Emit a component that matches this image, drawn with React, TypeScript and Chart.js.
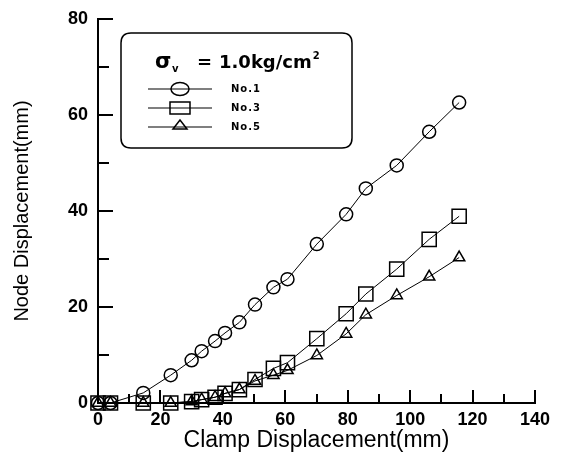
import React, { useEffect, useRef } from "react";
import { Chart, registerables } from "chart.js";

Chart.register(...registerables);

// ---- data ----
const clampDisp = [0, 4, 14.5, 23.3, 30, 33.2, 37.5, 40.7, 45.3, 50.3, 56.2, 60.7, 70.1, 79.5, 85.8, 95.7, 106.1, 115.7];
const no1 = [0, 0, 2.1, 5.8, 8.9, 10.8, 12.9, 14.6, 16.8, 20.5, 24.1, 25.8, 33.1, 39.3, 44.7, 49.5, 56.5, 62.6];
const no3 = [0, 0, 0, 0, 0.3, 0.7, 1.2, 2.0, 2.8, 4.9, 7.2, 8.4, 13.4, 18.6, 22.7, 27.9, 34.1, 38.9];
const no5 = [0, 0, 0, 0, 0.3, 0.7, 1.2, 2.0, 2.8, 4.6, 5.8, 6.8, 9.9, 14.4, 18.4, 22.4, 26.3, 30.3];
const seriesLabels = ["No.1", "No.3", "No.5"];
const seriesStyles = ["circle", "rect", "triangle"];
const xMin = 0, xMax = 140, xStep = 20, xMinor = 10;
const yMin = 0, yMax = 80, yStep = 20, yMinor = 10;
const xTitle = "Clamp Displacement(mm)";
const yTitle = "Node Displacement(mm)";

const tickFont = { family: "'Liberation Sans', Arial, sans-serif", size: 18, weight: "bold" as const, lineHeight: 1 };

const innerTicks = {
  id: "innerTicks",
  afterDraw(chart: any) {
    const ctx = chart.ctx;
    const xs = chart.scales.x;
    const ys = chart.scales.y;
    const { left, bottom } = chart.chartArea;
    ctx.save();
    ctx.strokeStyle = "#000";
    ctx.lineWidth = 2;
    ctx.beginPath();
    for (let v = xMin; v <= xMax; v += xMinor) {
      const px = Math.round(xs.getPixelForValue(v));
      const len = v % xStep === 0 ? 13 : 9;
      ctx.moveTo(px, bottom);
      ctx.lineTo(px, bottom - len);
    }
    for (let v = yMin; v <= yMax; v += yMinor) {
      const py = Math.round(ys.getPixelForValue(v));
      const len = v % yStep === 0 ? 15 : 11;
      ctx.moveTo(left, py);
      ctx.lineTo(left + len, py);
    }
    ctx.stroke();
    ctx.restore();
  },
};

const boxLegend = {
  id: "boxLegend",
  afterDraw(chart: any) {
    const ctx = chart.ctx;
    ctx.save();
    // rounded box
    const bx = 121, by = 33, bw = 231, bh = 115, r = 10;
    ctx.strokeStyle = "#000";
    ctx.lineWidth = 1.5;
    ctx.beginPath();
    ctx.moveTo(bx + r, by);
    ctx.lineTo(bx + bw - r, by);
    ctx.quadraticCurveTo(bx + bw, by, bx + bw, by + r);
    ctx.lineTo(bx + bw, by + bh - r);
    ctx.quadraticCurveTo(bx + bw, by + bh, bx + bw - r, by + bh);
    ctx.lineTo(bx + r, by + bh);
    ctx.quadraticCurveTo(bx, by + bh, bx, by + bh - r);
    ctx.lineTo(bx, by + r);
    ctx.quadraticCurveTo(bx, by, bx + r, by);
    ctx.stroke();

    // title: sigma_v = 1.0kg/cm^2
    ctx.fillStyle = "#000";
    ctx.textBaseline = "alphabetic";
    ctx.textAlign = "left";
    ctx.font = "bold 21px 'DejaVu Sans'";
    ctx.fillText("σ", 155, 68);
    ctx.font = "bold 10px 'DejaVu Sans'";
    ctx.fillText("v", 172, 72);
    ctx.font = "bold 18px 'DejaVu Sans'";
    ctx.fillText("=", 197, 68);
    const main = "1.0kg/cm";
    ctx.fillText(main, 219, 68);
    const w = ctx.measureText(main).width;
    ctx.font = "bold 10px 'DejaVu Sans'";
    ctx.fillText("2", 219 + w + 1, 59);

    // entries
    const rows = [89, 108, 127];
    rows.forEach((yy, i) => {
      ctx.lineWidth = 1.2;
      ctx.beginPath();
      ctx.moveTo(148, yy);
      ctx.lineTo(212, yy);
      ctx.stroke();
      ctx.lineWidth = 1.5;
      ctx.beginPath();
      const cx = 180;
      if (seriesStyles[i] === "circle") {
        ctx.ellipse(cx, yy, 9, 6.5, 0, 0, Math.PI * 2);
      } else if (seriesStyles[i] === "rect") {
        ctx.rect(cx - 10, yy - 6, 20, 12);
      } else {
        ctx.moveTo(cx, yy - 7);
        ctx.lineTo(cx + 7, yy + 2);
        ctx.lineTo(cx - 7, yy + 2);
        ctx.closePath();
      }
      ctx.stroke();
      ctx.font = "bold 10px 'DejaVu Sans'";
      (ctx as any).letterSpacing = "1px";
      ctx.textBaseline = "middle";
      ctx.fillText(seriesLabels[i], 231, yy);
      (ctx as any).letterSpacing = "0px";
    });
    ctx.restore();
  },
};

export default function App() {
  const ref = useRef<HTMLCanvasElement | null>(null);
  useEffect(() => {
    if (!ref.current) return;
    const values = [no1, no3, no5];
    const datasets = values.map((vals, i) => ({
      label: seriesLabels[i],
      data: clampDisp.map((x, j) => ({ x, y: vals[j] })),
      borderColor: "#000",
      borderWidth: 1,
      pointStyle: seriesStyles[i] as any,
      pointRadius: seriesStyles[i] === "rect" ? 10 : 6.5,
      pointBorderWidth: 1.5,
      pointBorderColor: "#000",
      pointBackgroundColor: "rgba(0,0,0,0)",
      tension: 0,
      clip: false as any,
    }));
    const chart = new Chart(ref.current, {
      type: "line",
      data: { datasets },
      options: {
        responsive: false,
        animation: false,
        layout: { padding: { top: 17, right: 35, left: 0, bottom: 0 } },
        plugins: { legend: { display: false }, tooltip: { enabled: false } },
        scales: {
          x: {
            type: "linear",
            min: xMin,
            max: xMax,
            afterFit: (s: any) => { s.height = 57; },
            grid: { display: false, drawTicks: false },
            border: { display: true, color: "#000", width: 2 },
            ticks: { stepSize: xStep, color: "#000", font: tickFont, padding: 8, maxRotation: 0 },
            title: {
              display: true,
              text: xTitle,
              color: "#000",
              font: { family: "'Liberation Sans', Arial, sans-serif", size: 23, lineHeight: 1 },
              padding: { top: 0, bottom: 8 },
            },
          },
          y: {
            type: "linear",
            min: yMin,
            max: yMax,
            afterFit: (s: any) => { s.width = 98; },
            grid: { display: false, drawTicks: false },
            border: { display: true, color: "#000", width: 2 },
            ticks: { stepSize: yStep, color: "#000", font: tickFont, padding: 10 },
            title: {
              display: true,
              text: yTitle,
              color: "#000",
              font: { family: "'Liberation Sans', Arial, sans-serif", size: 20, lineHeight: 1 },
              padding: { top: 12, bottom: 0 },
            },
          },
        },
      },
      plugins: [innerTicks, boxLegend],
    });
    return () => chart.destroy();
  }, []);
  return (
    <div style={{ position: "fixed", left: 0, top: 0, width: 570, height: 460, background: "#fff" }}>
      <canvas ref={ref} width={570} height={460} />
    </div>
  );
}
